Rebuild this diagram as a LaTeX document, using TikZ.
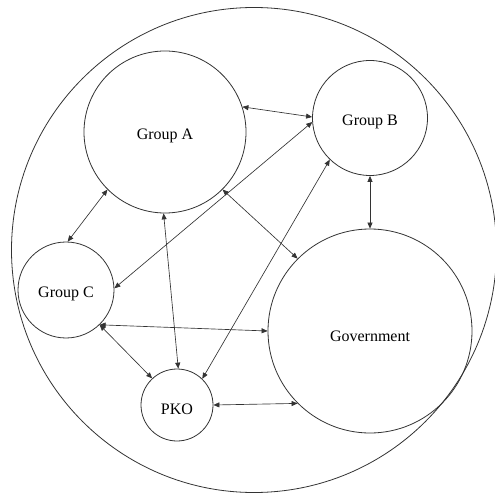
\documentclass[tikz,border=0pt]{standalone}
\usepackage{fontspec}
\setmainfont{Liberation Serif}
\usetikzlibrary{arrows.meta}
\begin{document}
\begin{tikzpicture}[x=1pt,y=-1pt,
  actor/.style={circle,draw=black!80,line width=0.8pt,inner sep=0pt,fill=none},
  lbl/.style={font=\fontsize{16}{19}\selectfont,text=black,inner sep=0pt},
  link/.style={draw=black!80,line width=0.65pt,{Triangle[length=6pt,width=5pt]}-{Triangle[length=6pt,width=5pt]}}]
\useasboundingbox (0,0) rectangle (495,494);
\node[actor,minimum size=485pt] (world) at (254,250) {};
\node[actor,minimum size=162pt] (A) at (165,132) {};
\node[actor,minimum size=115pt] (B) at (370,118) {};
\node[actor,minimum size=96pt] (C) at (66,290) {};
\node[actor,minimum size=204pt] (G) at (370,331) {};
\node[actor,minimum size=72pt] (P) at (177,405) {};
\node[lbl] (At) at ([yshift=-4pt]A.center) {Group A};
\node[lbl] (Bt) at ([yshift=-4pt]B.center) {Group B};
\node[lbl] (Ct) at ([yshift=-4pt]C.center) {Group C};
\node[lbl] (Gt) at ([yshift=-5pt]G.center) {Government};
\node[lbl] (Pt) at ([yshift=-4pt]P.center) {PKO};
\draw[link] (A.18) -- (B.179);
\draw[link] (A.225) -- (C.88);
\draw[link] (A.269) -- (P.88);
\draw[link] (A.315) -- (G.135);
\draw[link] (B.184) -- (C.2);
\draw[link] (B.226) -- (P.46);
\draw[link] (B.270) -- (G.90);
\draw[link] (C.314) -- (G.180);
\draw[link] (C.314) -- (P.133);
\draw[link] (P.0) -- (G.225);
\end{tikzpicture}
\end{document}
